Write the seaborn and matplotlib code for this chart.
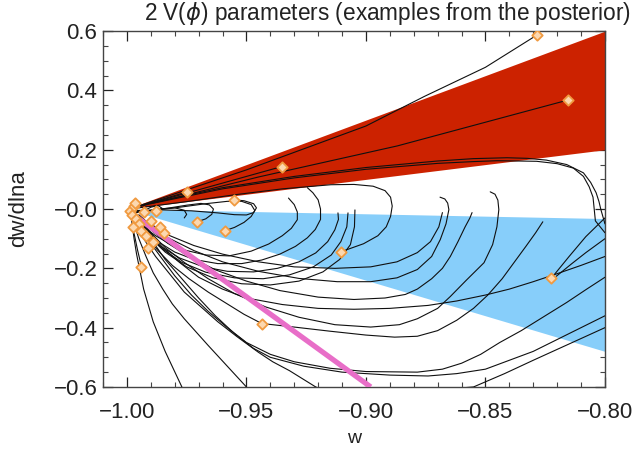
import matplotlib
matplotlib.use("Agg")
import matplotlib.pyplot as plt
import pandas as pd
import seaborn as sns
from matplotlib.ticker import FixedLocator, FixedFormatter, MultipleLocator

# shaded regions, corner values
thaw_w = [-1.0, -0.8]
thaw_lo = [0.0, 0.2]
thaw_hi = [0.0, 0.6]
freeze_w = [-1.0, -0.8]
freeze_hi = [0.0, -0.032]
freeze_lo = [0.0, -0.48]
pink_w = [-0.998, -0.898]
pink_wp = [-0.015, -0.6]

# trajectories traced by eye, each one a list of (w, dw/dlna) points
red_lines = [
    [(-0.999, 0.0), (-0.95, 0.132), (-0.90, 0.28), (-0.8755, 0.38), (-0.85, 0.478), (-0.8286, 0.586)],
    [(-0.999, 0.0), (-0.945, 0.108), (-0.8868, 0.213), (-0.8153, 0.368)],
    [(-0.999, 0.0), (-0.97, 0.065), (-0.9353, 0.143)],
    [(-0.999, 0.0), (-0.9748, 0.058)],
]

apex_loops = [
    [(-0.997, -0.01), (-0.99, -0.005), (-0.982, 0.004), (-0.975, 0.013), (-0.969, 0.019), (-0.9655, 0.014),
     (-0.9638, 0.0), (-0.9645, -0.018), (-0.967, -0.033), (-0.9706, -0.043)],
    [(-0.996, -0.012), (-0.988, -0.004), (-0.978, 0.006), (-0.967, 0.018), (-0.958, 0.026), (-0.952, 0.026),
     (-0.948, 0.015), (-0.9465, -0.005), (-0.948, -0.025), (-0.951, -0.045), (-0.955, -0.062), (-0.959, -0.073)],
    [(-0.996, -0.005), (-0.985, -0.003), (-0.973, -0.006), (-0.962, -0.013), (-0.955, -0.019), (-0.95, -0.02),
     (-0.947, -0.012), (-0.9458, 0.004), (-0.947, 0.018), (-0.951, 0.028), (-0.9553, 0.031)],
    [(-0.998, -0.012), (-0.993, -0.006), (-0.99, 0.006), (-0.987, 0.012), (-0.9852, 0.002), (-0.9877, -0.006)],
    [(-0.997, -0.01), (-0.99, -0.004), (-0.985, 0.001), (-0.98, 0.004), (-0.976, -0.004), (-0.975, -0.018),
     (-0.976, -0.03)],
    [(-0.998, -0.02), (-0.993, -0.04), (-0.988, -0.06), (-0.9843, -0.080)],
    [(-0.998, -0.05), (-0.9968, -0.09), (-0.9955, -0.14), (-0.9939, -0.194)],
]

blue_arcs = [
    [(-0.996, -0.03), (-0.993, -0.06), (-0.988, -0.09), (-0.982, -0.118), (-0.975, -0.14), (-0.967, -0.155),
     (-0.9573, -0.158), (-0.948, -0.142), (-0.9407, -0.118), (-0.935, -0.09), (-0.9312, -0.065),
     (-0.9287, -0.036), (-0.9287, -0.01), (-0.930, 0.015), (-0.9324, 0.037)],
    [(-0.996, -0.03), (-0.992, -0.07), (-0.987, -0.11), (-0.98, -0.145), (-0.972, -0.17), (-0.962, -0.184),
     (-0.952, -0.184), (-0.9436, -0.172), (-0.936, -0.152), (-0.9295, -0.126), (-0.9245, -0.097),
     (-0.9212, -0.069), (-0.919, -0.035), (-0.919, 0.0), (-0.920, 0.031), (-0.9222, 0.055), (-0.9245, 0.072)],
    [(-0.996, -0.03), (-0.992, -0.08), (-0.986, -0.125), (-0.978, -0.165), (-0.968, -0.195), (-0.958, -0.21),
     (-0.947, -0.212), (-0.937, -0.2), (-0.928, -0.178), (-0.921, -0.148), (-0.916, -0.11), (-0.913, -0.07),
     (-0.9115, -0.035), (-0.9117, -0.013)],
    [(-0.996, -0.03), (-0.992, -0.085), (-0.985, -0.135), (-0.977, -0.18), (-0.967, -0.213), (-0.955, -0.232),
     (-0.943, -0.235), (-0.932, -0.222), (-0.922, -0.195), (-0.9145, -0.155), (-0.9105, -0.11),
     (-0.908, -0.06), (-0.9075, -0.013)],
    [(-0.996, -0.03), (-0.991, -0.09), (-0.984, -0.145), (-0.975, -0.195), (-0.964, -0.232), (-0.952, -0.252),
     (-0.94, -0.256), (-0.928, -0.243), (-0.918, -0.212), (-0.911, -0.17), (-0.9065, -0.12), (-0.9048, -0.06),
     (-0.9046, -0.003)],
    [(-0.995, 0.004), (-0.975, 0.025), (-0.955, 0.048), (-0.935, 0.068), (-0.9146, 0.082), (-0.905, 0.083),
     (-0.897, 0.077), (-0.892, 0.062), (-0.8897, 0.04), (-0.889, 0.01), (-0.8897, -0.025), (-0.8915, -0.06),
     (-0.895, -0.09), (-0.901, -0.117), (-0.9104, -0.144)],
]

fan_curves = [
    # sweeps that curl back up inside the blue band
    [(-0.995, -0.03), (-0.99, -0.08), (-0.984, -0.13), (-0.976, -0.18), (-0.966, -0.235), (-0.955, -0.285),
     (-0.942, -0.33), (-0.928, -0.365), (-0.913, -0.39), (-0.898, -0.398), (-0.886, -0.39), (-0.8785, -0.37),
     (-0.870, -0.335), (-0.8647, -0.295), (-0.858, -0.24), (-0.8506, -0.181), (-0.847, -0.12),
     (-0.8452, -0.06), (-0.8444, -0.002), (-0.8448, 0.03), (-0.846, 0.05), (-0.848, 0.058)],
    [(-0.995, -0.025), (-0.99, -0.07), (-0.983, -0.115), (-0.974, -0.16), (-0.963, -0.205), (-0.95, -0.243),
     (-0.936, -0.275), (-0.92, -0.297), (-0.905, -0.305), (-0.892, -0.3), (-0.8835, -0.288), (-0.8785, -0.27),
     (-0.8725, -0.235), (-0.868, -0.2), (-0.8647, -0.16), (-0.8615, -0.11), (-0.8585, -0.06),
     (-0.8565, -0.03), (-0.8556, -0.012)],
    [(-0.995, -0.02), (-0.99, -0.06), (-0.982, -0.1), (-0.972, -0.14), (-0.96, -0.178), (-0.945, -0.21),
     (-0.928, -0.234), (-0.912, -0.245), (-0.898, -0.245), (-0.887, -0.232), (-0.8785, -0.204),
     (-0.8725, -0.16), (-0.8689, -0.103), (-0.8665, -0.05), (-0.8653, -0.002), (-0.8658, 0.02),
     (-0.867, 0.034), (-0.869, 0.04)],
    [(-0.995, -0.02), (-0.99, -0.055), (-0.982, -0.09), (-0.972, -0.123), (-0.96, -0.152), (-0.945, -0.178),
     (-0.93, -0.195), (-0.913, -0.2), (-0.898, -0.195), (-0.887, -0.178), (-0.8785, -0.147), (-0.873, -0.11),
     (-0.8695, -0.06), (-0.868, -0.012)],
    [(-0.996, -0.04), (-0.992, -0.09), (-0.987, -0.14), (-0.981, -0.19), (-0.974, -0.235), (-0.966, -0.28),
     (-0.958, -0.32), (-0.951, -0.355), (-0.9436, -0.386)],
    [(-0.9436, -0.386), (-0.93, -0.398), (-0.915, -0.412), (-0.9, -0.425), (-0.888, -0.432), (-0.8785, -0.429),
     (-0.87, -0.41), (-0.862, -0.375), (-0.855, -0.335), (-0.849, -0.29), (-0.843, -0.235), (-0.838, -0.18),
     (-0.833, -0.125), (-0.829, -0.08), (-0.826, -0.043)],
    # long sweeps to the bottom and to the right edge
    [(-0.998, -0.04), (-0.997, -0.1), (-0.996, -0.15), (-0.9945, -0.21), (-0.993, -0.27), (-0.991, -0.325),
     (-0.989, -0.38), (-0.9865, -0.43), (-0.984, -0.48), (-0.9805, -0.54), (-0.977, -0.60)],
    [(-0.997, -0.05), (-0.995, -0.1), (-0.992, -0.16), (-0.989, -0.215), (-0.985, -0.27), (-0.981, -0.32),
     (-0.976, -0.37), (-0.971, -0.415), (-0.966, -0.46), (-0.962, -0.495), (-0.958, -0.53), (-0.954, -0.565),
     (-0.950, -0.60)],
    [(-0.996, -0.05), (-0.993, -0.1), (-0.988, -0.16), (-0.982, -0.22), (-0.976, -0.28), (-0.969, -0.33),
     (-0.962, -0.38), (-0.954, -0.43), (-0.945, -0.483), (-0.939, -0.515), (-0.932, -0.545), (-0.921, -0.60),
     (-0.91, -0.635), (-0.855, -0.60), (-0.842, -0.555), (-0.83, -0.51), (-0.815, -0.455), (-0.80, -0.40)],
    [(-0.995, -0.05), (-0.991, -0.105), (-0.986, -0.16), (-0.98, -0.225), (-0.973, -0.29), (-0.966, -0.345),
     (-0.958, -0.4), (-0.95, -0.45), (-0.94, -0.49), (-0.93, -0.515), (-0.915, -0.537), (-0.9, -0.548),
     (-0.8785, -0.55), (-0.868, -0.54), (-0.86, -0.52), (-0.852, -0.49), (-0.844, -0.45), (-0.835, -0.41),
     (-0.825, -0.36), (-0.816, -0.315), (-0.808, -0.272), (-0.80, -0.23)],
    [(-0.995, -0.04), (-0.99, -0.1), (-0.984, -0.17), (-0.977, -0.235), (-0.97, -0.30), (-0.963, -0.36),
     (-0.955, -0.42), (-0.947, -0.47), (-0.94, -0.50), (-0.926, -0.53), (-0.91, -0.55), (-0.89, -0.56),
     (-0.874, -0.563), (-0.862, -0.555), (-0.85, -0.54), (-0.84, -0.51), (-0.83, -0.48), (-0.82, -0.44),
     (-0.81, -0.40), (-0.80, -0.36)],
    [(-0.995, -0.035), (-0.99, -0.085), (-0.985, -0.13), (-0.978, -0.18), (-0.97, -0.23), (-0.96, -0.27),
     (-0.95, -0.30), (-0.935, -0.322), (-0.92, -0.335), (-0.905, -0.338), (-0.89, -0.335), (-0.874, -0.325),
     (-0.862, -0.31), (-0.85, -0.29), (-0.84, -0.27), (-0.83, -0.245), (-0.82, -0.218), (-0.81, -0.19),
     (-0.80, -0.16)],
]

edge_arcs = [
    [(-0.99, 0.02), (-0.96, 0.072), (-0.93, 0.11), (-0.90, 0.14), (-0.87, 0.162), (-0.855, 0.17),
     (-0.841, 0.173), (-0.8325, 0.171), (-0.8245, 0.165), (-0.816, 0.15), (-0.809, 0.122), (-0.806, 0.09),
     (-0.8037, 0.055), (-0.8025, 0.025), (-0.8017, -0.002), (-0.80, -0.05)],
    [(-0.99, 0.018), (-0.96, 0.068), (-0.93, 0.105), (-0.90, 0.134), (-0.87, 0.154), (-0.855, 0.16),
     (-0.845, 0.163), (-0.8286, 0.161), (-0.82, 0.153), (-0.8132, 0.138), (-0.809, 0.11), (-0.8066, 0.075),
     (-0.805, 0.04), (-0.8046, 0.008), (-0.804, -0.04), (-0.80, -0.08)],
    [(-0.8225, -0.234), (-0.815, -0.16), (-0.808, -0.093), (-0.80, -0.03)],
    [(-0.8204, -0.227), (-0.814, -0.185), (-0.808, -0.147), (-0.80, -0.10)],
]

# present-day values (orange diamonds)
today_w = [-0.8286, -0.8153, -0.9353, -0.9748, -0.9553, -0.9104, -0.8225, -0.9436, -0.959, -0.9706,
           -0.9877, -0.9939, -0.9843,
           -0.9985, -0.998, -0.997, -0.996, -0.995, -0.9975, -0.994, -0.993, -0.992, -0.990,
           -0.989, -0.991, -0.9965, -0.986]
today_wp = [0.586, 0.368, 0.143, 0.058, 0.031, -0.144, -0.234, -0.386, -0.073, -0.043,
            -0.006, -0.194, -0.080,
            -0.005, -0.02, 0.01, -0.035, -0.05, -0.06, -0.075, -0.01, -0.09, -0.04,
            -0.11, -0.13, 0.02, -0.06]

xticks = [-1.00, -0.95, -0.90, -0.85, -0.80]
xticklabels = ["\u22121.00", "\u22120.95", "\u22120.90", "\u22120.85", "\u22120.80"]
yticks = [-0.6, -0.4, -0.2, 0.0, 0.2, 0.4, 0.6]
yticklabels = ["\u22120.6", "\u22120.4", "\u22120.2", "\u22120.0", "0.2", "0.4", "0.6"]

sns.set_theme(style="ticks")
plt.rcParams["font.family"] = ["Liberation Sans", "DejaVu Sans"]

rows = []
k = 0
for group in (red_lines, apex_loops, blue_arcs, fan_curves, edge_arcs):
    for pts in group:
        for i, (w, wp) in enumerate(pts):
            rows.append((k, i, w, wp))
        k += 1
traj = pd.DataFrame(rows, columns=["curve", "step", "w", "wp"])
today = pd.DataFrame({"w": today_w, "wp": today_wp})

fig = plt.figure(figsize=(6.37, 4.51), dpi=100)
ax = fig.add_axes([0.1617, 0.142, 0.788, 0.789])

ax.fill_between(thaw_w, thaw_lo, thaw_hi, color="#cc2200", lw=0, zorder=1)
ax.fill_between(freeze_w, freeze_lo, freeze_hi, color="#87cefa", lw=0, zorder=1)

sns.lineplot(data=traj, x="w", y="wp", units="curve", estimator=None, sort=False,
             color="#101010", lw=0.8, ax=ax, zorder=3)
ax.plot(pink_w, pink_wp, color="#e86ec8", lw=3.8, solid_capstyle="butt", zorder=4)
sns.scatterplot(data=today, x="w", y="wp", marker="D", s=28, facecolor="#fcd8b0",
                edgecolor="#f09a40", linewidth=1.3, ax=ax, zorder=5)

ax.set_xlim(-1.01, -0.80)
ax.set_ylim(-0.6, 0.6)
ax.xaxis.set_major_locator(FixedLocator(xticks))
ax.xaxis.set_major_formatter(FixedFormatter(xticklabels))
ax.yaxis.set_major_locator(FixedLocator(yticks))
ax.yaxis.set_major_formatter(FixedFormatter(yticklabels))
ax.xaxis.set_minor_locator(MultipleLocator(0.01))
ax.yaxis.set_minor_locator(MultipleLocator(0.05))
ax.tick_params(which="both", direction="in", top=True, right=True, color="#444444")
ax.tick_params(which="major", length=7, width=0.9, labelsize=16, colors="#222222")
ax.tick_params(which="minor", length=3.5, width=0.8)
ax.tick_params(axis="x", which="major", pad=11)
ax.tick_params(axis="y", which="major", pad=4)
for s in ax.spines.values():
    s.set_color("#444444")
    s.set_linewidth(1.0)

ax.set_xlabel("w", fontsize=14, color="#222222")
ax.set_ylabel("dw/dlna", fontsize=16, color="#222222")
ax.xaxis.set_label_coords(0.5, -0.12)
ax.yaxis.set_label_coords(-0.148, 0.5)
fig.text(0.609, 0.971, "2 V($\\phi$) parameters (examples from the posterior)",
         ha="center", va="center", fontsize=16.3, color="#222222")

fig.savefig("out.png", dpi=100)
